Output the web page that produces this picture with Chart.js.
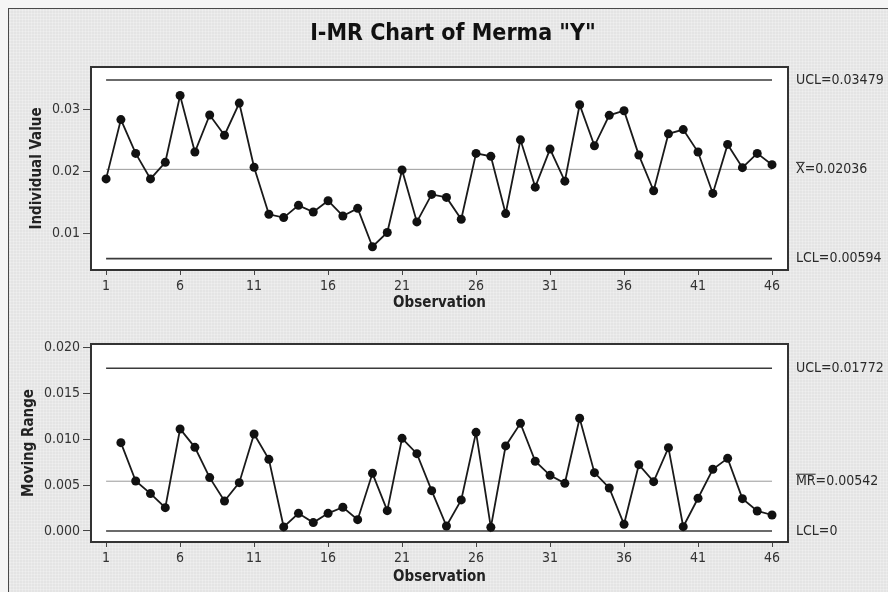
<!DOCTYPE html>
<html>
<head>
<meta charset="utf-8">
<script src="https://cdn.jsdelivr.net/npm/chart.js@4.4.1/dist/chart.umd.min.js"></script>
<style>
html, body { margin: 0; padding: 0; }
#fondo { position: relative; width: 888px; height: 592px; overflow: hidden; background: #f5f5f5; }
#panel { position: absolute; left: 8px; top: 8px; width: 900px; height: 600px;
  border-left: 1px solid #4a4a4a; border-top: 1px solid #4a4a4a;
  background-color: #e4e4e4;
  background-image: radial-gradient(circle, #efefef 0.7px, transparent 1.3px);
  background-size: 3px 3px; }
canvas { position: absolute; left: 0; }
#chartI { top: 0; }
#chartMR { top: 316px; }
</style>
</head>
<body>
<div id="fondo">
  <div id="panel"></div>
  <canvas id="chartI" width="888" height="316"></canvas>
  <canvas id="chartMR" width="888" height="276"></canvas>
</div>
<script>
const titulo = 'I-MR Chart of Merma "Y"';

// valores individuales, observaciones 1..46
const valoresI = [
  0.01882, 0.02840, 0.02294, 0.01882, 0.02150, 0.03230, 0.02316, 0.02914, 0.02588, 0.03107,
  0.02070, 0.01310, 0.01257, 0.01455, 0.01348, 0.01529, 0.01283, 0.01406, 0.00786, 0.01016,
  0.02027, 0.01187, 0.01631, 0.01583, 0.01230, 0.02294, 0.02246, 0.01321, 0.02513, 0.01749,
  0.02364, 0.01845, 0.03080, 0.02417, 0.02909, 0.02984, 0.02267, 0.01690, 0.02610, 0.02679,
  0.02316, 0.01647, 0.02439, 0.02064, 0.02294, 0.02112
];

// rango movil, observaciones 2..46
const valoresMR = [
  0.00962, 0.00544, 0.00407, 0.00254, 0.01111, 0.00911, 0.00581, 0.00327, 0.00526, 0.01056,
  0.00780, 0.00044, 0.00192, 0.00091, 0.00192, 0.00258, 0.00123, 0.00628, 0.00221, 0.01009,
  0.00842, 0.00439, 0.00054, 0.00338, 0.01074, 0.00040, 0.00926, 0.01172, 0.00759, 0.00606,
  0.00519, 0.01227, 0.00635, 0.00468, 0.00073, 0.00722, 0.00537, 0.00907, 0.00047, 0.00356,
  0.00672, 0.00791, 0.00352, 0.00218, 0.00174
];

const limitesI = { ucl: 0.03479, cl: 0.02036, lcl: 0.00594 };
const limitesMR = { ucl: 0.01772, cl: 0.00542, lcl: 0 };

const ticksX = [1, 6, 11, 16, 21, 26, 31, 36, 41, 46];
const ticksI = [0.01, 0.02, 0.03];
const ticksMR = [0, 0.005, 0.010, 0.015, 0.020];

const FUENTE = '"DejaVu Sans Condensed", "DejaVu Sans", sans-serif';
Chart.defaults.font.family = FUENTE;
Chart.defaults.color = '#333';

// fondo blanco del area, marco y etiquetas de los limites
const pluginMarco = {
  id: 'marco',
  beforeDraw(chart) {
    const { ctx, chartArea: a } = chart;
    ctx.save();
    ctx.fillStyle = '#fff';
    ctx.fillRect(a.left, a.top, a.right - a.left, a.bottom - a.top);
    ctx.restore();
  },
  afterDraw(chart, args, opts) {
    const { ctx, chartArea: a } = chart;
    ctx.save();
    ctx.strokeStyle = '#333';
    ctx.lineWidth = 2;
    ctx.strokeRect(a.left, a.top, a.right - a.left, a.bottom - a.top);

    ctx.font = '14px ' + FUENTE;
    ctx.fillStyle = '#2a2a2a';
    ctx.textBaseline = 'middle';
    ctx.textAlign = 'left';
    (opts.etiquetas || []).forEach(e => {
      const y = chart.scales.y.getPixelForValue(e.valor);
      let x = a.right + 8;
      if (e.barra) {
        ctx.fillText(e.barra, x, y);
        const w = ctx.measureText(e.barra).width;
        ctx.fillRect(x, y - 7.5, w, 1);
        x += w;
      }
      ctx.fillText(e.texto, x, y);
    });

    if (opts.titulo) {
      ctx.font = 'bold 23px ' + FUENTE;
      ctx.fillStyle = '#111';
      ctx.textAlign = 'center';
      ctx.fillText(opts.titulo, 453, 34);
    }
    ctx.restore();
  }
};

function lineaControl(valor, color, ancho) {
  return {
    data: [{ x: 1, y: valor }, { x: 46, y: valor }],
    borderColor: color, borderWidth: ancho, pointRadius: 0, fill: false
  };
}

function crearGrafico(canvasId, cfg) {
  const ctx = document.getElementById(canvasId).getContext('2d');
  return new Chart(ctx, {
    type: 'line',
    data: {
      datasets: [
        {
          data: cfg.valores.map((v, i) => ({ x: i + cfg.inicio, y: v })),
          borderColor: '#1a1a1a', borderWidth: 1.8,
          pointRadius: 4.5, pointBackgroundColor: '#111', pointBorderWidth: 0,
          tension: 0, fill: false
        },
        lineaControl(cfg.limites.ucl, '#3a3a3a', 1.6),
        lineaControl(cfg.limites.cl, '#9a9a9a', 1),
        lineaControl(cfg.limites.lcl, '#3a3a3a', 1.6)
      ]
    },
    options: {
      responsive: false,
      animation: false,
      devicePixelRatio: 1,
      layout: { padding: { left: 0, right: 100, top: cfg.arriba, bottom: 0 } },
      plugins: {
        legend: { display: false },
        tooltip: { enabled: false },
        marco: { etiquetas: cfg.etiquetas, titulo: cfg.titulo }
      },
      scales: {
        x: {
          type: 'linear', min: -0.02, max: 47.08,
          afterBuildTicks: s => { s.ticks = ticksX.map(v => ({ value: v })); },
          afterFit: s => { s.height = cfg.altoX; },
          grid: { drawOnChartArea: false, tickLength: 5, color: '#444' },
          border: { display: false },
          ticks: { autoSkip: false, maxRotation: 0, padding: 3, font: { size: 14 }, color: '#333' },
          title: { display: true, text: 'Observation', color: '#222',
                   font: { size: 15, weight: 'bold' }, padding: { top: 0, bottom: cfg.padObs } }
        },
        y: {
          min: cfg.yMin, max: cfg.yMax,
          afterBuildTicks: s => { s.ticks = cfg.ticksY.map(v => ({ value: v })); },
          afterFit: s => { s.width = 91; },
          grid: { drawOnChartArea: false, tickLength: 8, color: '#444' },
          border: { display: false },
          ticks: { padding: 3, font: { size: 14 }, color: '#333',
                   callback: v => v.toFixed(cfg.decimales) },
          title: { display: true, text: cfg.tituloY, color: '#222',
                   font: { size: 15, weight: 'bold' }, padding: { top: cfg.padY, bottom: 0 } }
        }
      }
    },
    plugins: [pluginMarco]
  });
}

crearGrafico('chartI', {
  valores: valoresI, inicio: 1, limites: limitesI,
  yMin: 0.0041, yMax: 0.0369, ticksY: ticksI, decimales: 2,
  tituloY: 'Individual Value', padY: 28,
  arriba: 67, altoX: 46, padObs: 4,
  titulo: titulo,
  etiquetas: [
    { valor: limitesI.ucl, texto: 'UCL=0.03479' },
    { valor: limitesI.cl, barra: 'X', texto: '=0.02036' },
    { valor: limitesI.lcl, texto: 'LCL=0.00594' }
  ]
});

crearGrafico('chartMR', {
  valores: valoresMR, inicio: 2, limites: limitesMR,
  yMin: -0.0012, yMax: 0.02036, ticksY: ticksMR, decimales: 3,
  tituloY: 'Moving Range', padY: 20,
  arriba: 28, altoX: 50, padObs: 6,
  etiquetas: [
    { valor: limitesMR.ucl, texto: 'UCL=0.01772' },
    { valor: limitesMR.cl, barra: 'MR', texto: '=0.00542' },
    { valor: limitesMR.lcl, texto: 'LCL=0' }
  ]
});
</script>
</body>
</html>
